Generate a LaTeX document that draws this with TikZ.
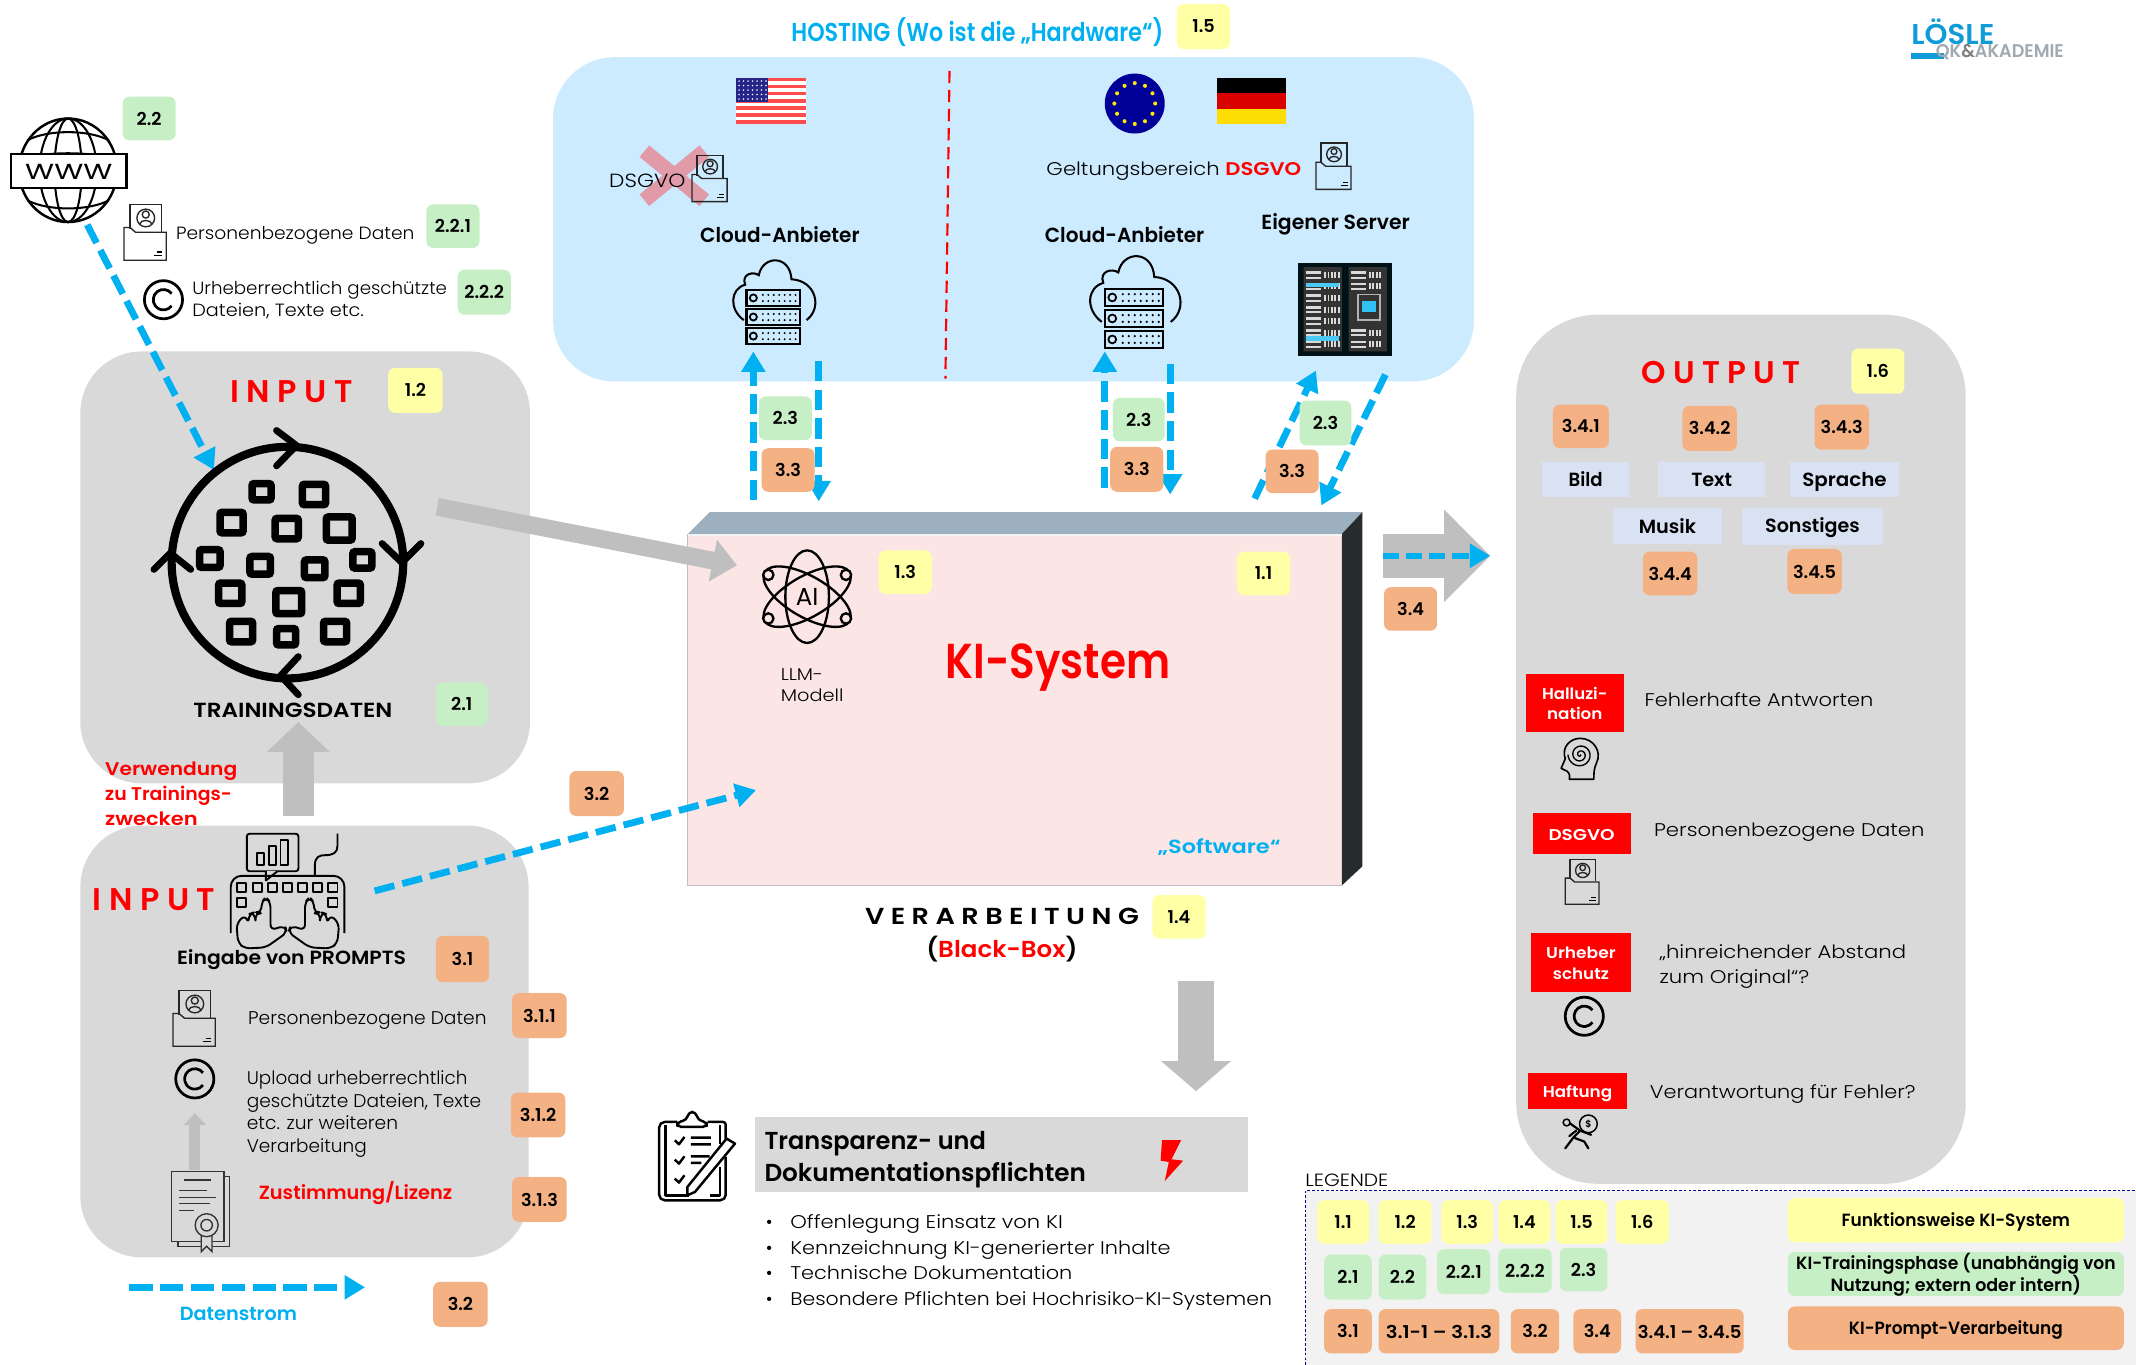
\documentclass[tikz,border=0pt]{standalone}
\usepackage{fontspec}
\usepackage{graphicx}
\usetikzlibrary{arrows.meta}
\setmainfont{Poppins}[BoldFont={Poppins SemiBold}]
\newfontfamily\lightf{Poppins Light}
\newfontfamily\boldf{Poppins SemiBold}
\lineskiplimit=-100pt
\definecolor{panelgrey}{HTML}{D9D9D9}
\definecolor{hostblue}{HTML}{CCEBFF}
\definecolor{yel}{HTML}{FFFFA6}
\definecolor{grn}{HTML}{C6EFC6}
\definecolor{ora}{HTML}{F4B183}
\definecolor{flow}{HTML}{00B0F0}
\definecolor{agrey}{HTML}{BFBFBF}
\definecolor{outbox}{HTML}{D9E2F3}
\definecolor{kifront}{HTML}{FBE5E5}
\definecolor{kitop}{HTML}{9DB0BF}
\definecolor{kiside}{HTML}{262B2E}
\definecolor{logob}{HTML}{0F9BD7}
\definecolor{logog}{HTML}{A0AAB0}
\definecolor{crossx}{HTML}{E09AA8}
\newcommand\fsz[2]{\fontsize{#1}{#2}\selectfont}
\newcommand\TW[2]{\resizebox{#1pt}{\height}{\rule[-.17\baselineskip]{0pt}{\baselineskip}#2}}
\newcommand\bdg[7]{\node[#2,minimum width={(#5-#3)*1pt},minimum height={(#6-#4)*1pt}] (#1) at ({(#3+#5)/2},{(#4+#6)/2}) {#7};}
\tikzset{
 byel/.style={fill=yel,rounded corners=5pt,inner sep=0pt,align=center,font=\fsz{13}{15}\bfseries},
 bgrn/.style={fill=grn,rounded corners=5pt,inner sep=0pt,align=center,font=\fsz{13}{15}\bfseries},
 bora/.style={fill=ora,rounded corners=5pt,inner sep=0pt,align=center,font=\fsz{13}{15}\bfseries},
 bsq/.style={fill=outbox,inner sep=0pt,font=\fsz{14}{16}\bfseries},
 bred/.style={fill=red,text=white,inner sep=0pt,align=center,font=\fsz{11.5}{15}\bfseries},
 lab/.style={anchor=west,inner sep=0pt,align=left},
 ctr/.style={inner sep=0pt,align=center},
 light/.style={font=\lightf\fsz{13.5}{16.7}},
 panel/.style={fill=panelgrey,rounded corners=45pt},
 flowline/.style={draw=flow,line width=5pt,dash pattern=on 15pt off 6pt,-{Triangle[length=15pt,width=17pt]}},
 fatarrow/.style={draw=agrey},
 ic/.style={line width=1pt,draw=black!85},
 docicon/.pic={
  \draw[ic] (4.5,18)--(4.5,0)--(27.5,0)--(27.5,20);
  \draw[ic] (16,10) circle[radius=6.5];
  \draw[ic] (16,7.5) circle[radius=2.6];
  \draw[ic] (11.5,14.5) .. controls (12,11) and (20,11) .. (20.5,14.5);
  \draw[ic] (0,17)--(4.5,17)--(8.5,20.5)--(31,20.5)--(31,41)--(0,41)--cycle;
  \draw[line width=.8pt] (24,35)--(28,35) (22,37.5)--(28,37.5);
 },
 copyicon/.pic={
  \draw[line width=2pt] (0,0) circle[radius=14];
  \draw[line width=2pt] (6,-4.5) arc[start angle=-37,end angle=-323,radius=7.5];
 },
 cloudicon/.pic={
  \draw[line width=1.5pt] (-22,13) .. controls (-33,5) and (-32,-10) .. (-21,-13)
    .. controls (-24,-21) and (-15,-23) .. (-11,-20)
    .. controls (-8,-35) and (12,-35) .. (13,-17)
    .. controls (31,-16) and (36,4) .. (24,13);
  \foreach \yy in {-9,5,19}{
   \draw[line width=1.5pt,fill=hostblue] (-20,\yy)rectangle(19,{\yy+11.5});
   \draw[line width=1.3pt] (-15,{\yy+5.7}) circle[radius=2.6];
   \foreach \xx in {-8,-4,0,4,8,12,16}{
     \fill (\xx,{\yy+3.5}) circle[radius=.8];
     \fill (\xx,{\yy+8}) circle[radius=.8];}
  }
 }
}
\begin{document}
\begin{tikzpicture}[x=1pt,y=-1pt]
\useasboundingbox (0,0) rectangle (1568,1002);
\fill[white] (0,0) rectangle (1568,1002);

% ---- panels
\fill[hostblue] (406,42) [rounded corners=45pt] rectangle (1082,280);
\fill[panel] (59,258) rectangle (389,575);
\fill[panel] (59,606) rectangle (388,923);
\fill[panelgrey,rounded corners=60pt] (1113,231) rectangle (1443,869);

% ---- logo
\node[ctr,text=logob,font=\fsz{21}{24}\bfseries] (logoa) at (1433.5,25) {\TW{61}{LÖSLE}};
\fill[logob] (1403,39) rectangle (1427,43);
\node[ctr,text=logog,font=\fsz{13.5}{15}\bfseries] (logob) at (1468,37.5) {\TW{94}{QK\textcolor{gray}{\&}AKADEMIE}};

% ---- hosting panel
\node[ctr,text=flow,font=\fsz{19}{22}\bfseries] (hosting) at (717.5,23) {\TW{273}{HOSTING (Wo ist die „Hardware“)}};
\coordinate (sepa) at (697,52); \coordinate (sepb) at (694,278);
\draw[red,line width=1.6pt,dash pattern=on 9pt off 5pt] (sepa)--(sepb);
% US flag
\foreach \i in {0,...,12}{
  \pgfmathsetmacro\ya{57+\i*34/13}
  \pgfmathparse{int(mod(\i,2))}
  \ifnum\pgfmathresult=0 \fill[red!70!white] (540,\ya) rectangle (592,\ya+2.62);
  \else \fill[white] (540,\ya) rectangle (592,\ya+2.62); \fi}
\fill[blue!45!black!85] (540,57) rectangle (564,75);
\foreach \i in {0,...,6}{\foreach \j in {0,...,4}{\fill[white] (542.5+\i*3.3,59.5+\j*3.3) circle[radius=.6];}}
% EU
\fill[blue!60!black] (833,76) circle[radius=22];
\foreach \a in {0,30,...,330}{\fill[yellow!90!orange] ({833+15*cos(\a)},{76+15*sin(\a)}) circle[radius=1.5];}
% DE
\fill[black] (893,57) rectangle (944,68.5);
\fill[red!85!black] (893,68.5) rectangle (944,80);
\fill[yellow!80!orange] (893,80) rectangle (944,91);
% X, DSGVO
\draw[line width=11pt,draw=crossx] (473,111)--(517,147) (517,111)--(473,147);
\node[lab,font=\lightf\fsz{14}{16}] (dsgvox) at (447,132) {\TW{56}{DSGVO}};
\pic[scale=.83] at (508,114) {docicon};
\node[ctr,font=\fsz{15}{18}\bfseries] (cloudl) at (572.5,172) {\TW{117}{Cloud-Anbieter}};
\node[ctr,font=\fsz{15}{18}\bfseries] (cloudr) at (825.5,172) {\TW{117}{Cloud-Anbieter}};
\node[ctr,font=\fsz{15}{18}\bfseries] (eigen) at (980.5,163) {\TW{109}{Eigener Server}};
\node[lab,font=\lightf\fsz{13.5}{16}] (geltung) at (768,124) {\TW{187}{Geltungsbereich \textcolor{red}{\boldf DSGVO}}};
\pic[scale=.83] at (966,105) {docicon};
\pic at (568,222) {cloudicon};
\pic[scale=1.1] at (833,222) {cloudicon};
% server rack
\fill[black!90!flow] (953,193) rectangle (1022,261);
\fill[gray!40!black] (957,196) rectangle (985,258) (990,196) rectangle (1018,258);
\foreach \i in {0,...,6}{
  \fill[white!85!black] (959,{199+\i*8.5}) rectangle (970,{201+\i*8.5});
  \fill[white!85!black] (959,{203+\i*8.5}) rectangle (970,{204.5+\i*8.5});
  \foreach \k in {972,974.5,977,979.5,982}{\fill[white!85!black] (\k,{199.5+\i*8.5}) rectangle (\k+1.3,{204+\i*8.5});}
}
\fill[flow!70!white] (959,207.5) rectangle (983,211);
\fill[flow!70!white] (959,250) rectangle (983,246.5);
\foreach \i in {0,1,5,6}{
  \fill[white!85!black] (992,{199+\i*8.5}) rectangle (1003,{201+\i*8.5});
  \fill[white!85!black] (992,{203+\i*8.5}) rectangle (1003,{204.5+\i*8.5});
  \foreach \k in {1005,1007.5,1010,1012.5}{\fill[white!85!black] (\k,{199.5+\i*8.5}) rectangle (\k+1.3,{204+\i*8.5});}
}
\draw[white!70!black,line width=1pt] (997,216) rectangle (1013,235);
\fill[flow!80!white] (1000,221) rectangle (1010,229);

% ---- KI box
\fill[kifront] (505,392) rectangle (985,650);
\fill[kitop] (505,392)--(521,376)--(1000,376)--(985,392)--cycle;
\fill[kiside] (985,392)--(1000,376)--(1000,636)--(985,650)--cycle;
\draw[white!85!kitop,line width=1.5pt] (505,393)--(985,393);
\draw[gray!50,line width=.7pt] (505,392)--(505,650)--(985,650);
% AI icon
\begin{scope}[shift={(592.5,438)}]
 \draw[line width=1.7pt] (0,0) ellipse[x radius=16,y radius=34];
 \draw[line width=1.7pt,rotate=60] (0,0) ellipse[x radius=15,y radius=36];
 \draw[line width=1.7pt,rotate=-60] (0,0) ellipse[x radius=15,y radius=36];
 \foreach \p/\q in {-28.5/-16,28.5/-16,-28.5/16,28.5/16}{\draw[line width=1.7pt,fill=kifront] (\p,\q) circle[radius=3.8];}
\end{scope}
\node[ctr,font=\fsz{18}{20}] (aitxt) at (592.5,438) {AI};
\node[lab,font=\lightf\fsz{12.5}{16}] (llm) at (573,502) {\TW{31}{LLM-}\\\TW{46}{Modell}};
\node[ctr,text=red,font=\fsz{36}{42}\bfseries] (kisys) at (776.5,485) {\TW{165}{KI-System}};
\node[ctr,text=flow,font=\fsz{14}{16}\bfseries] (soft) at (895,621) {\TW{90}{„Software“}};
\node[ctr,font=\fsz{17}{24}\bfseries] (verarb) at (735.5,683) {\TW{201}{V E R A R B E I T U N G}\\\TW{111}{(\textcolor{red}{Black-Box})}};

% ---- coordinates of connectors
\coordinate (a1) at (553,367); \coordinate (a2) at (553,258);
\coordinate (b1) at (601,265); \coordinate (b2) at (601,368);
\coordinate (c1) at (811,358); \coordinate (c2) at (811,258);
\coordinate (d1) at (859,267); \coordinate (d2) at (859,363);
\coordinate (e1) at (921,366); \coordinate (e2) at (966,272);
\coordinate (f1) at (1017,275); \coordinate (f2) at (970,371);
\coordinate (g1) at (64,165); \coordinate (g2) at (157,345);
\coordinate (h1) at (275,654); \coordinate (h2) at (555,580);
\coordinate (i1) at (95,945); \coordinate (i2) at (268,945);
\coordinate (j1) at (321,372); \coordinate (j2) at (541,415);
\coordinate (k1) at (219,599); \coordinate (k2) at (219,530);
\coordinate (l1) at (878,720); \coordinate (l2) at (878,801);
\coordinate (m1) at (1015,408); \coordinate (m2) at (1094,408);
\coordinate (n1) at (143,859); \coordinate (n2) at (143,817);

\draw[fatarrow,line width=13pt,-{Triangle[length=18pt,width=30pt]}] (j1)--(j2);
\draw[fatarrow,line width=22.5pt,-{Triangle[length=22pt,width=45pt]}] (k1)--(k2);
\draw[fatarrow,line width=26pt,-{Triangle[length=22pt,width=50pt]}] (l1)--(l2);
\draw[fatarrow,line width=32pt,-{Triangle[length=34pt,width=66pt]}] (m1)--(m2);
\draw[fatarrow,line width=8pt,-{Triangle[length=9pt,width=16pt]}] (n1)--(n2);
\draw[flowline] (a1)--(a2);
\draw[flowline] (b1)--(b2);
\draw[flowline] (c1)--(c2);
\draw[flowline] (d1)--(d2);
\draw[flowline] (e1)--(e2);
\draw[flowline] (f1)--(f2);
\draw[flowline] (g1)--(g2);
\draw[flowline] (h1)--(h2);
\draw[flowline,dash pattern=on 17pt off 5.6pt] (i1)--(i2);
\draw[flowline,line width=4pt,dash pattern=on 12pt off 5pt] (m1)--(m2);

% ---- globe
\begin{scope}[shift={(50,125)}]
 \draw[line width=1.8pt] (0,0) ellipse[x radius=36,y radius=38];
 \draw[line width=1.5pt] (0,0) ellipse[x radius=21,y radius=38];
 \draw[line width=1.5pt] (0,0) ellipse[x radius=10,y radius=38];
 \draw[line width=1.5pt] (-30,-22) .. controls (-15,-30) and (15,-30) .. (30,-22);
 \draw[line width=1.5pt] (-30,22) .. controls (-15,30) and (15,30) .. (30,22);
 \draw[line width=1.5pt] (-36,-8) .. controls (-15,-14) and (15,-14) .. (36,-8);
 \draw[line width=1.5pt] (-36,8) .. controls (-15,14) and (15,14) .. (36,8);
\end{scope}
\draw[line width=2pt,fill=white] (8,113) rectangle (93,138);
\node[ctr,font=\fsz{16}{18}] (www) at (50.5,125.5) {\TW{64}{WWW}};

% ---- left texts
\pic at (91,150) {docicon};
\node[lab,font=\lightf\fsz{13}{16}] (pd1) at (129,171) {\TW{175}{Personenbezogene Daten}};
\pic at (120,220) {copyicon};
\node[lab,font=\lightf\fsz{13}{16}] (ur1) at (141,219) {\TW{187}{Urheberrechtlich geschützte}\\\TW{126}{Dateien, Texte etc.}};
\node[ctr,text=red,font=\fsz{23}{26}\bfseries] (input1) at (214,287) {\TW{90}{I N P U T}};

% ---- training cycle
\draw[line width=6pt] (211,413) circle[radius=85];
\draw[line width=5pt,line cap=round,line join=round] (203,316)--(217.6,327)--(203,342);
\draw[line width=5pt,line cap=round,line join=round] (280.5,399)--(295,413)--(309,399);
\draw[line width=5pt,line cap=round,line join=round] (219,482)--(206,496)--(219,510);
\draw[line width=5pt,line cap=round,line join=round] (113,418)--(125,406)--(140,418);
\foreach \cx/\cy/\w in {192/361/14,230.5/363/17,170/383.6/17,210.5/388/17,249/388/19,154/410/15,191/415/15,231/417.5/15,266/411/14,169/435.5/17,212/442/19,256/435.5/17,177/463.6/17,210/467.4/14,246/463.6/17}{
  \draw[line width=5.5pt,rounded corners=1.5pt] ({\cx-\w/2},{\cy-\w/2+1}) rectangle ({\cx+\w/2},{\cy+\w/2-1});
}
\node[ctr,font=\fsz{15}{18}\bfseries] (train) at (215,521) {\TW{146}{TRAININGSDATEN}};
\node[lab,text=red,font=\fsz{13.5}{18.5}\bfseries] (verw) at (77,581.5) {\TW{97}{Verwendung}\\\TW{93}{zu Trainings-}\\\TW{68}{zwecken}};
\node[ctr,text=red,font=\fsz{23}{26}\bfseries] (input2) at (113,660) {\TW{90}{I N P U T}};

% ---- keyboard
\begin{scope}[shift={(0,572.7)},x=.2809pt,y=-.2809pt,line width=1.4pt,line join=round]
 \draw[rounded corners=2pt] (645,140) rectangle (780,238);
 \draw[fill=panelgrey] (695,238)--(695,262)--(725,238);
 \draw (672,222) rectangle (690,190) (703,222) rectangle (721,172) (733,222) rectangle (753,156);
 \draw (823,250)--(823,222) .. controls (823,200) and (835,196) .. (850,196) .. controls (870,196) and (882,190) .. (882,172) -- (882,140);
 \draw[rounded corners=8pt] (603,400)--(603,250)--(900,250)--(900,400);
 \foreach \kx in {632,672,712,752,790,830,870}{\draw (\kx-12,269) rectangle (\kx+12,292);}
 \foreach \kx in {632,870}{\draw (\kx-12,309) rectangle (\kx+12,332);}
 \foreach \ss/\off in {1/0,-1/1504}{
 \begin{scope}[xshift={\off*.2809pt},xscale=\ss]
 \draw[fill=panelgrey,rounded corners=4pt] (640,440)--(622,425)--(618,375)--(640,352)--(650,375)--(650,350)--(665,345)--(668,375)--(668,345)--(683,348)--(683,320)--(695,305)--(707,320)--(707,392)--(745,380)--(750,398)--(695,437)--cycle;
 \end{scope}}
\end{scope}
\node[ctr,font=\fsz{14}{16}\bfseries] (prompts) at (214,703) {\TW{168}{Eingabe von PROMPTS}};
\pic at (127,727) {docicon};
\node[lab,font=\lightf\fsz{13.5}{16}] (pd2) at (182,747) {\TW{175}{Personenbezogene Daten}};
\pic at (143,792) {copyicon};
\node[lab,light] (upl) at (181,816) {\TW{162}{Upload urheberrechtlich}\\\TW{172}{geschützte Dateien, Texte}\\\TW{111}{etc. zur weiteren}\\\TW{88}{Verarbeitung}};
% certificate
\begin{scope}[shift={(0,572.7)},x=.2809pt,y=-.2809pt,line width=1pt,draw=black!80]
 \draw (585,1035)--(600,1035)--(600,1218)--(465,1218)--(465,1205);
 \draw[fill=panelgrey] (448,1022) rectangle (585,1205);
 \draw (482,1045)--(552,1045) (468,1072)--(540,1072) (468,1090)--(565,1090) (468,1106)--(548,1106) (468,1124)--(508,1124);
 \draw[fill=panelgrey] (526,1190)--(526,1232)--(540,1218)--(554,1232)--(554,1190)--cycle;
 \draw[fill=panelgrey] (540,1163) circle[radius=30];
 \draw (540,1163) circle[radius=15];
\end{scope}
\node[ctr,text=red,font=\fsz{14}{16}\bfseries] (zust) at (261,876) {\TW{142}{Zustimmung/Lizenz}};
\node[ctr,text=flow,font=\fsz{14}{16}\bfseries] (datenstrom) at (175,964) {\TW{86}{Datenstrom}};

% ---- transparency
\fill[panelgrey] (554,820) rectangle (916,875);
\node[lab,font=\fsz{18}{23}\bfseries] (transp) at (561,848.5) {\TW{162.5}{Transparenz- und}\\\TW{236}{Dokumentationspflichten}};
\fill[red] (853,837)--(867,837)--(860,851)--(868.5,852)--(855,867)--(858,853)--(852,852)--cycle;
\begin{scope}[shift={(470,793)},x=.309pt,y=-.2447pt,line width=1.8pt,line join=round]
 \draw[rounded corners=4pt] (88,125)--(45,125)--(45,360)--(203,360)--(203,230);
 \draw[rounded corners=2pt] (160,125)--(203,125)--(203,175);
 \draw (60,135)--(60,345)--(115,345);
 \draw (190,135)--(190,190) (190,260)--(190,345)--(165,345);
 \draw[rounded corners=3pt,fill=white] (88,140)--(88,125)--(110,120)--(115,95)--(132,95)--(137,120)--(158,125)--(158,140)--cycle;
 \draw (82,180)--(92,192)--(105,170) (120,172)--(168,172) (120,192)--(168,192);
 \draw (82,238)--(92,250)--(105,228) (120,228)--(165,228) (120,248)--(145,248);
 \draw (82,295)--(92,307)--(105,285);
 \draw[fill=white] (205,175)--(225,190)--(130,335)--(112,345)--(112,320)--cycle;
\end{scope}
\node[lab,font=\lightf\fsz{13.5}{18.7}] (bull) at (562,924) {\makebox[18pt][l]{•}\TW{200}{Offenlegung Einsatz von KI}\\\makebox[18pt][l]{•}\TW{279}{Kennzeichnung KI-generierter Inhalte}\\\makebox[18pt][l]{•}\TW{207}{Technische Dokumentation}\\\makebox[18pt][l]{•}\TW{353.5}{Besondere Pflichten bei Hochrisiko-KI-Systemen}};

% ---- output
\node[ctr,text=red,font=\fsz{23}{26}\bfseries] (output) at (1263.5,273) {\TW{117}{O U T P U T}};
\bdg{bild}{bsq}{1132}{339}{1196}{365}{\TW{25}{Bild}}
\bdg{text}{bsq}{1217}{339}{1296}{365}{\TW{30}{Text}}
\bdg{sprache}{bsq}{1314}{339}{1394}{365}{\TW{62}{Sprache}}
\bdg{musik}{bsq}{1184}{373}{1264}{399}{\TW{42}{Musik}}
\bdg{sonst}{bsq}{1279}{373}{1382}{400}{\TW{69.5}{Sonstiges}}
\bdg{hall}{bred}{1120}{495}{1192}{537}{\TW{48}{Halluzi-}\\\TW{40.6}{nation}}
\bdg{dsg}{bred}{1125}{597}{1197}{627}{\TW{48.5}{DSGVO}}
\bdg{urh}{bred}{1124}{685}{1197}{728}{\TW{51}{Urheber}\\\TW{41}{schutz}}
\bdg{haft}{bred}{1122}{788}{1194}{814}{\TW{51}{Haftung}}
\node[lab,light] (t1) at (1207,513) {\TW{168}{Fehlerhafte Antworten}};
\node[lab,light] (t2) at (1214,609) {\TW{198.5}{Personenbezogene Daten}};
\node[lab,light,font=\lightf\fsz{13.5}{18.5}] (t3) at (1218,707) {\TW{181}{„hinreichender Abstand}\\\TW{110}{zum Original“?}};
\node[lab,light] (t4) at (1211,801) {\TW{195}{Verantwortung für Fehler?}};
% head icon
\draw[line width=1.2pt,line join=round] (1152,572) .. controls (1153,568) and (1151,566) .. (1148,565) -- (1146,564) -- (1149,557) .. controls (1146,548) and (1153,542) .. (1160,542) .. controls (1170,542) and (1176,552) .. (1172,560) .. controls (1170,564) and (1170,568) .. (1170,572) -- cycle;
\draw[line width=1pt] plot[domain=0:900,samples=70,smooth] ({1160+(\x/100)*cos(\x)},{554+(\x/100)*sin(\x)});
\pic[scale=.8] at (1149,631) {docicon};
\pic at (1163,746) {copyicon};
% person with bag
\draw[line width=1.1pt] (1166,825) circle[radius=6.5];
\node[ctr,font=\fsz{7}{8}\bfseries] (dollar) at (1166,825) {\$};
\draw[line width=1.1pt] (1150,824) circle[radius=2.5];
\draw[line width=1.6pt,line join=round,line cap=round] (1153,825)--(1160,830)--(1155,835)--(1149,843) (1155,835)--(1163,838)--(1166,843) (1160,830)--(1168,833) (1157,830)--(1152,834);

% ---- badges
\bdg{b15}{byel}{864}{3}{903}{36}{1.5}
\bdg{b22}{bgrn}{90}{71}{129}{103}{2.2}
\bdg{b221}{bgrn}{313}{150}{352}{182}{2.2.1}
\bdg{b222}{bgrn}{336}{198}{375}{231}{2.2.2}
\bdg{b12}{byel}{285}{270}{325}{303}{1.2}
\bdg{b21}{bgrn}{320}{501}{358}{533}{2.1}
\bdg{b23a}{bgrn}{557}{291}{596}{323}{2.3}
\bdg{b33a}{bora}{559}{329}{598}{361}{3.3}
\bdg{b23b}{bgrn}{817}{292}{855}{324}{2.3}
\bdg{b33b}{bora}{815}{328}{854}{361}{3.3}
\bdg{b23c}{bgrn}{954}{294}{992}{327}{2.3}
\bdg{b33c}{bora}{929}{330}{968}{362}{3.3}
\bdg{b13}{byel}{645}{404}{684}{436}{1.3}
\bdg{b11}{byel}{908}{405}{947}{437}{1.1}
\bdg{b14}{byel}{846}{657}{885}{689}{1.4}
\bdg{b34}{bora}{1016}{431}{1055}{463}{3.4}
\bdg{b32a}{bora}{418}{566}{458}{599}{3.2}
\bdg{b31}{bora}{320}{687}{359}{721}{3.1}
\bdg{b311}{bora}{376}{729}{416}{762}{3.1.1}
\bdg{b312}{bora}{375}{802}{415}{835}{3.1.2}
\bdg{b313}{bora}{376}{864}{416}{897}{3.1.3}
\bdg{b32b}{bora}{318}{941}{358}{974}{3.2}
\bdg{b16}{byel}{1359}{256}{1398}{289}{1.6}
\bdg{b341}{bora}{1140}{297}{1181}{329}{3.4.1}
\bdg{b342}{bora}{1235}{298}{1275}{331}{3.4.2}
\bdg{b343}{bora}{1332}{297}{1372}{330}{3.4.3}
\bdg{b344}{bora}{1206}{405}{1246}{437}{3.4.4}
\bdg{b345}{bora}{1312}{403}{1352}{436}{3.4.5}

% ---- legend
\node[lab,font=\lightf\fsz{13}{15}] (leg) at (958,866) {\TW{61}{LEGENDE}};
\draw[fill=black!5,draw=blue!60!black,line width=.7pt,dash pattern=on 2pt off 1.5pt] (958,874) rectangle (1570,1004);
\bdg{l11}{byel}{967}{881}{1005}{913}{1.1}
\bdg{l12}{byel}{1012}{881}{1051}{913}{1.2}
\bdg{l13}{byel}{1058}{881}{1096}{913}{1.3}
\bdg{l14}{byel}{1100}{881}{1138}{913}{1.4}
\bdg{l15}{byel}{1142}{881}{1180}{913}{1.5}
\bdg{l16}{byel}{1186}{881}{1225}{913}{1.6}
\bdg{l21}{bgrn}{972}{921}{1007}{954}{2.1}
\bdg{l22}{bgrn}{1012}{921}{1047}{954}{2.2}
\bdg{l221}{bgrn}{1055}{917}{1094}{950}{2.2.1}
\bdg{l222}{bgrn}{1100}{916.5}{1139}{949}{2.2.2}
\bdg{l23}{bgrn}{1145}{916}{1180}{948}{2.3}
\bdg{l31}{bora}{972}{961}{1007}{993.5}{3.1}
\bdg{l311}{bora}{1012}{961}{1100.6}{993.5}{\TW{78}{3.1-1 – 3.1.3}}
\bdg{l32}{bora}{1109}{961}{1144.6}{993.5}{3.2}
\bdg{l34}{bora}{1155}{961}{1190}{993.5}{3.4}
\bdg{l341}{bora}{1200.6}{961}{1280}{993.5}{\TW{76}{3.4.1 – 3.4.5}}
\bdg{lf}{byel}{1312.5}{879.5}{1559}{912}{\TW{167.6}{Funktionsweise KI-System}}
\bdg{lt}{bgrn}{1312.5}{919}{1559}{951.5}{\TW{234.5}{KI-Trainingsphase (unabhängig von}\\[1pt]\TW{184}{Nutzung; extern oder intern)}}
\bdg{lp}{bora}{1312.5}{959}{1559}{991}{\TW{157}{KI-Prompt-Verarbeitung}}
\end{tikzpicture}
\end{document}
